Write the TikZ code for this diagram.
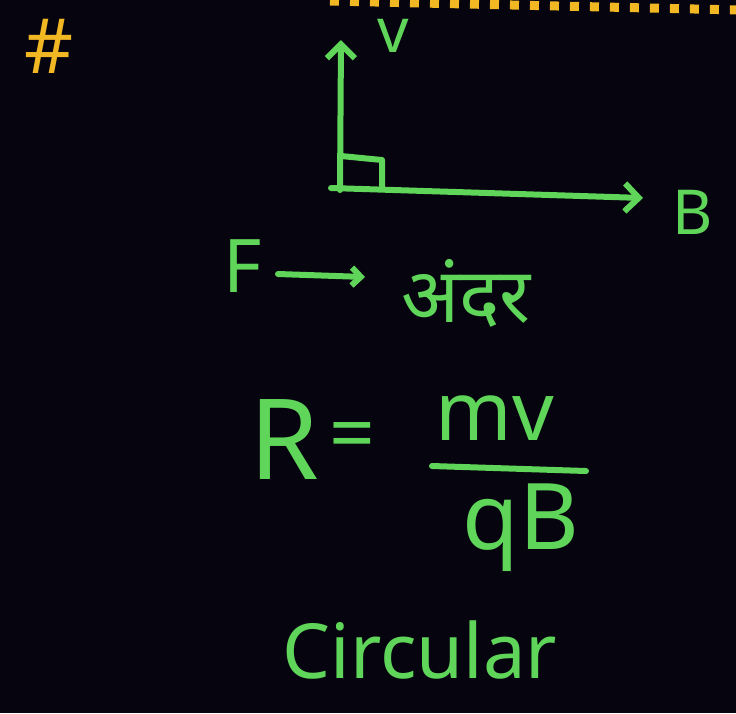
\documentclass[tikz,border=0pt]{standalone}
\usepackage{fontspec}
\setmainfont{Noto Sans}
\newfontfamily\devfont[Script=Devanagari]{Noto Sans}
\usetikzlibrary{arrows.meta}
\definecolor{bg}{HTML}{06040F}
\definecolor{chalk}{HTML}{5FD65A}
\definecolor{gold}{HTML}{F2B824}
\tikzset{
  ink/.style={draw=chalk, line width=6pt, line cap=round, line join=round},
  barb/.style={-{Straight Barb[length=14pt,width=28pt,line width=6pt]}},
  lbl/.style={text=chalk, inner sep=0pt, anchor=center},
}
\begin{document}
\begin{tikzpicture}[x=1pt,y=-1pt]
\fill[bg] (0,0) rectangle (736,713);
\useasboundingbox (0,0) rectangle (736,713);
% top dashed line
\coordinate (d1) at (330,1);
\coordinate (d2) at (740,10);
\draw[gold, line width=9pt, dash pattern=on 9pt off 11pt, line cap=butt] (d1) -- (d2);
\node[text=gold, inner sep=0pt, font=\bfseries\fontsize{76}{80}\selectfont] (hash) at (49,46) {\#};
% axes
\coordinate (O) at (340,190);
\coordinate (Ob) at (331,188);
\coordinate (vt) at (341,40);
\coordinate (bt) at (643,198);
\draw[ink, barb] (O) -- (vt);
\draw[ink, barb] (Ob) -- (bt);
\coordinate (s1) at (341,156);
\coordinate (s2) at (382,160);
\coordinate (s3) at (382,189);
\draw[ink] (s1) -- (s2) -- (s3);
\node[lbl, font=\fontsize{62}{70}\selectfont] (v) at (393,36) {v};
\node[lbl, font=\fontsize{62}{70}\selectfont] (B) at (693,212) {B};
% F -> andar
\node[lbl, font=\fontsize{74}{80}\selectfont] (F) at (243,266) {F};
\node[lbl, font=\devfont\fontsize{76}{90}\selectfont] (andar) at (466,293) {अंदर};
\coordinate (fa) at (278,274);
\coordinate (fb) at (365,277);
\draw[ink, -{Straight Barb[length=9pt,width=18pt,line width=6pt]}] (fa) -- (fb);
% formula
\node[lbl, font=\fontsize{112}{120}\selectfont] (R) at (284,440) {R};
\node[lbl, font=\fontsize{80}{90}\selectfont] (eq) at (352,442) {=};
\node[lbl, font=\fontsize{82}{90}\selectfont] (mv) at (495,418) {mv};
\coordinate (f1) at (432,466);
\coordinate (f2) at (586,471);
\draw[ink] (f1) -- (f2);
\node[lbl, font=\fontsize{92}{100}\selectfont] (qB) at (521,528) {qB};
\node[lbl, font=\fontsize{76}{80}\selectfont] (circ) at (420,650) {Circular};
\end{tikzpicture}
\end{document}
